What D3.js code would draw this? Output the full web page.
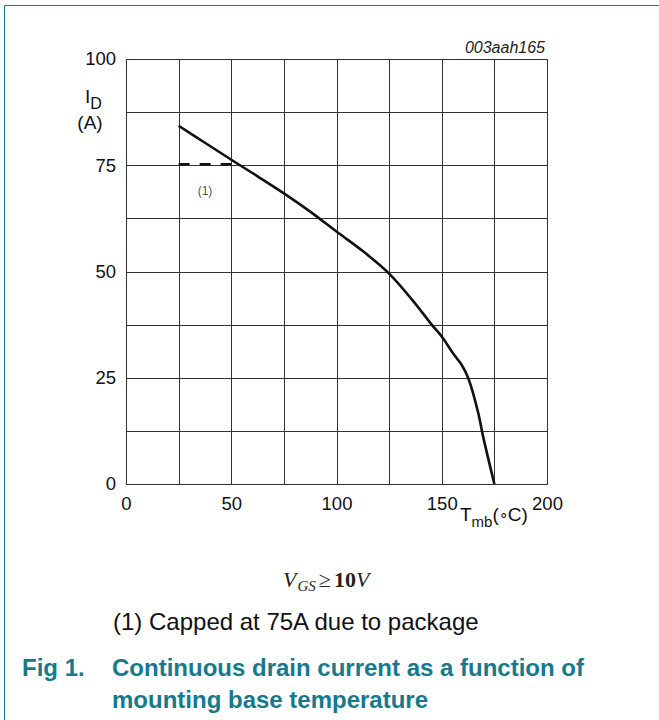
<!DOCTYPE html>
<html>
<head>
<meta charset="utf-8">
<script src="https://cdn.jsdelivr.net/npm/d3@7"></script>
<style>
  html, body { margin: 0; padding: 0; background: #fff; }
  svg { display: block; }
</style>
</head>
<body>
<svg id="chart" width="659" height="720"></svg>
<script>
// ---- data ----
const tempC    = [25, 37.5, 50, 62.5, 75, 87.5, 100, 112.5, 125, 137.5, 145.2, 150, 155, 157.1, 159.5, 162.6, 167.4, 169.5, 175];
const currentA = [84.3, 80.3, 76.3, 72.4, 68.4, 64.1, 59.4, 54.8, 49.5, 42.4, 37.5, 34.7, 31.0, 29.6, 28.0, 24.9, 16.6, 11.5, 0];
const capTemp  = [25, 50];
const capValue = [75, 75];
const xTickLabels = [0, 50, 100, 150, 200];
const yTickLabels = [0, 25, 50, 75, 100];
const xGrid = [25, 50, 75, 100, 125, 150, 175];
const yGrid = [12.5, 25, 37.5, 50, 62.5, 75, 87.5];

const teal = "#17798c";
const sans = "Liberation Sans, Arial, sans-serif";
const svg = d3.select("#chart");

// frame
svg.append("line").attr("x1", 4.5).attr("y1", 5.5).attr("x2", 659).attr("y2", 5.5).attr("stroke", teal).attr("stroke-width", 1);
svg.append("line").attr("x1", 4.5).attr("y1", 5.5).attr("x2", 4.5).attr("y2", 720).attr("stroke", teal).attr("stroke-width", 1);

const x = d3.scaleLinear().domain([0, 200]).range([126, 547]);
const y = d3.scaleLinear().domain([0, 100]).range([484, 59]);

const g = svg.append("g");
const gridColor = "#333";

// grid
g.selectAll("line.vx").data(xGrid).enter().append("line")
  .attr("x1", d => Math.round(x(d)) + 0.5).attr("x2", d => Math.round(x(d)) + 0.5)
  .attr("y1", y(0)).attr("y2", y(100)).attr("stroke", gridColor).attr("stroke-width", 1);
g.selectAll("line.hy").data(yGrid).enter().append("line")
  .attr("y1", d => Math.round(y(d)) + 0.5).attr("y2", d => Math.round(y(d)) + 0.5)
  .attr("x1", x(0)).attr("x2", x(200)).attr("stroke", gridColor).attr("stroke-width", 1);
// box
g.append("rect").attr("x", x(0) + 0.5).attr("y", y(100) + 0.5)
  .attr("width", x(200) - x(0)).attr("height", y(0) - y(100))
  .attr("fill", "none").attr("stroke", gridColor).attr("stroke-width", 1);

// axes labels via d3 axes
const yAxis = d3.axisLeft(y).tickValues(yTickLabels).tickSize(0).tickPadding(10).tickFormat(d3.format("d"));
const ya = g.append("g").attr("transform", `translate(${x(0)},0)`).call(yAxis);
ya.select(".domain").remove();
ya.selectAll("text").attr("font-family", sans).attr("font-size", 18.5).attr("fill", "#111");

const xAxis = d3.axisBottom(x).tickValues(xTickLabels).tickSize(0).tickPadding(13).tickFormat(d3.format("d"));
const xa = g.append("g").attr("transform", `translate(0,${y(0)})`).call(xAxis);
xa.select(".domain").remove();
xa.selectAll("text").attr("font-family", sans).attr("font-size", 18.5).attr("fill", "#111");

// cap dashed line
const line = d3.line().x(d => x(d[0])).y(d => y(d[1]));
g.append("path").datum(capTemp.map((t, i) => [t, capValue[i]]))
  .attr("d", line).attr("fill", "none").attr("stroke", "#111").attr("stroke-width", 2.5)
  .attr("stroke-dasharray", "11,10").attr("transform", "translate(0,-1)");

// curve
g.append("path").datum(tempC.map((t, i) => [t, currentA[i]]))
  .attr("d", d3.line().x(d => x(d[0])).y(d => y(d[1])).curve(d3.curveCatmullRom.alpha(0.5)))
  .attr("fill", "none")
  .attr("stroke", "#111").attr("stroke-width", 2.6).attr("stroke-linejoin", "round");

// (1) label
g.append("text").attr("x", 205).attr("y", 195).attr("text-anchor", "middle")
  .attr("font-family", sans).attr("font-size", 12).attr("fill", "#555").text("(1)");

// figure code
g.append("text").attr("x", 545).attr("y", 53).attr("text-anchor", "end")
  .attr("font-family", sans).attr("font-style", "italic")
  .attr("font-size", 16).attr("fill", "#222").text("003aah165");

// y title
const yt = g.append("text").attr("x", 85).attr("y", 103)
  .attr("font-family", sans).attr("font-size", 19).attr("fill", "#111");
yt.append("tspan").text("I");
yt.append("tspan").attr("font-size", 16).attr("dy", 6).text("D");
g.append("text").attr("x", 90).attr("y", 129).attr("text-anchor", "middle")
  .attr("font-family", sans).attr("font-size", 19).attr("fill", "#111").text("(A)");

// x title
const xt = g.append("text").attr("x", 460).attr("y", 521)
  .attr("font-family", sans).attr("font-size", 19).attr("fill", "#111");
xt.append("tspan").text("T");
xt.append("tspan").attr("font-size", 15).attr("dy", 6).text("mb");
xt.append("tspan").attr("dy", -6).text("(");
xt.append("tspan").attr("font-size", 15).attr("dy", -1).text("\u2218");
xt.append("tspan").attr("dy", 1).text("C)");

// V_GS condition
const vg = svg.append("text").attr("x", 283).attr("y", 587)
  .attr("font-family", "Liberation Serif, Times New Roman, serif").attr("font-size", 22).attr("fill", "#222");
vg.append("tspan").attr("font-style", "italic").text("V");
vg.append("tspan").attr("font-style", "italic").attr("font-size", 15).attr("dy", 4).attr("dx", 1).text("GS");
vg.append("tspan").attr("dy", -4).attr("dx", 3).text("\u2265");
vg.append("tspan").attr("font-weight", "bold").attr("dx", 3).text("10");
vg.append("tspan").attr("font-style", "italic").text("V");

// note
svg.append("text").attr("x", 113).attr("y", 630)
  .attr("font-family", sans).attr("font-size", 24).attr("fill", "#111")
  .text("(1) Capped at 75A due to package");

// caption
const cap = svg.append("g").attr("font-family", sans)
  .attr("font-weight", "bold").attr("font-size", 24).attr("fill", teal);
cap.append("text").attr("x", 22).attr("y", 676).text("Fig 1.");
cap.append("text").attr("x", 112).attr("y", 676).text("Continuous drain current as a function of");
cap.append("text").attr("x", 112).attr("y", 708).text("mounting base temperature");
</script>
</body>
</html>
